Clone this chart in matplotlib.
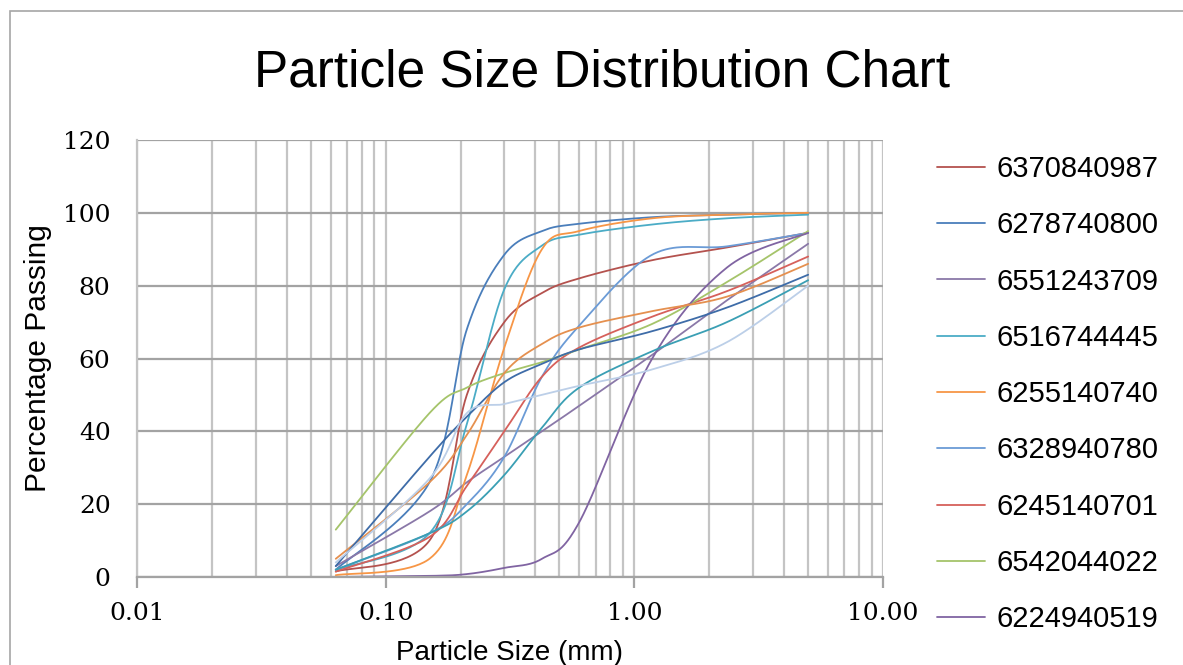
import numpy as np
import matplotlib
matplotlib.use('Agg')
import matplotlib.pyplot as plt
from matplotlib.patches import Rectangle
from matplotlib.ticker import FixedLocator, FuncFormatter, LogLocator, NullFormatter

# ---- data ----
sizes = [0.063, 0.15, 0.212, 0.3, 0.425, 0.6, 1.18, 2.36, 5.0]

series_names = ['6370840987', '6278740800', '6551243709', '6516744445', '6255140740',
                '6328940780', '6245140701', '6542044022', '6224940519']

s6370840987 = [1.5, 10, 50, 70, 78, 82, 87, 90.5, 94.5]
s6278740800 = [2, 26, 68, 88.5, 95, 97, 98.8, 99.5, 100]
s6551243709 = [3, 18, 26, 33, 40, 47, 61, 76, 91.5]
s6516744445 = [2, 12, 42, 79, 91, 94, 96.8, 98.5, 99.5]
s6255140740 = [0.5, 5, 28, 63, 90, 95, 98.5, 99.5, 100]
s6328940780 = [2, 12, 20, 33, 55, 69, 88.5, 90.8, 94.5]
s6245140701 = [1.5, 11, 25, 40, 55, 63, 71.5, 78.5, 88]
s6542044022 = [13, 45, 52, 56, 59, 62.5, 69.5, 81, 95]
s6224940519 = [0, 0.3, 0.8, 2.5, 5, 15, 60, 85, 94.5]
# further series (not shown in the visible part of the legend)
extra_a = [5, 26, 39, 56, 64, 68.5, 73, 77, 86]
extra_b = [3, 33, 44, 53.5, 58.5, 62.5, 67.5, 74, 83]
extra_c = [2, 12, 18, 28, 41, 52, 62, 70, 81.5]
extra_d = [4, 27, 45, 47.5, 50, 52.5, 57, 64.5, 80]

named_values = [s6370840987, s6278740800, s6551243709, s6516744445, s6255140740,
                s6328940780, s6245140701, s6542044022, s6224940519]
named_colors = ['#b4524e', '#4a7ebb', '#8a78a8', '#4bacc6', '#f79646',
                '#6b9bd6', '#d6605b', '#a5c46a', '#8064a2']
extra_values = [extra_a, extra_b, extra_c, extra_d]
extra_colors = ['#e5904f', '#3e6ca8', '#3a9fb4', '#bccfe8']


def smooth(xs, ys, n=40):
    """Excel-like smoothed line (Bezier through points) in log-x space."""
    P = np.column_stack([np.log10(xs), np.asarray(ys, float)])
    ext = np.vstack([P[0], P, P[-1]])
    t = np.linspace(0, 1, n)[:, None]
    out = []
    for i in range(len(P) - 1):
        p0, p3 = ext[i + 1], ext[i + 2]
        c1 = p0 + (ext[i + 2] - ext[i]) / 6
        c2 = p3 - (ext[i + 3] - ext[i + 1]) / 6
        seg = (1 - t) ** 3 * p0 + 3 * (1 - t) ** 2 * t * c1 + 3 * (1 - t) * t ** 2 * c2 + t ** 3 * p3
        out.append(seg if i == 0 else seg[1:])
    pts = np.vstack(out)
    return 10 ** pts[:, 0], pts[:, 1]


W, H = 1183, 665
fig = plt.figure(figsize=(W / 100, H / 100), dpi=100)
fig.patches.append(Rectangle((10 / W, -0.1), 2.0, (H - 11) / H + 0.1, transform=fig.transFigure,
                             fill=False, edgecolor='#a6a6a6', lw=1.2))

ax = fig.add_axes([137 / W, 88 / H, 746 / W, 437 / H])
ax.set_xscale('log')

handles = []
for vals, col, name in zip(named_values, named_colors, series_names):
    x, y = smooth(sizes, vals)
    h, = ax.plot(x, y, color=col, lw=1.3, label=name, solid_capstyle='round')
    handles.append(h)
for vals, col in zip(extra_values, extra_colors):
    x, y = smooth(sizes, vals)
    ax.plot(x, y, color=col, lw=1.3, solid_capstyle='round')

ax.set_xlim(0.01, 10)
ax.set_ylim(0, 120)
ax.set_yticks(range(0, 121, 20))
ax.xaxis.set_major_locator(FixedLocator([0.01, 0.1, 1, 10]))
ax.xaxis.set_major_formatter(FuncFormatter(lambda v, p: f'{v:.2f}'))
ax.xaxis.set_minor_locator(LogLocator(base=10, subs=range(2, 10)))
ax.xaxis.set_minor_formatter(NullFormatter())
ax.set_axisbelow(True)
ax.grid(which='both', axis='x', color='#c4c4c4', lw=1.6)
ax.grid(which='major', axis='y', color='#a3a3a3', lw=1.6)
for s in ['top', 'right']:
    ax.spines[s].set_visible(False)
ax.spines['left'].set_color('#c4c4c4')
ax.spines['left'].set_linewidth(1.6)
ax.spines['bottom'].set_color('#a3a3a3')
ax.spines['bottom'].set_linewidth(1.6)

ax.tick_params(axis='x', which='major', length=8, width=1.6, color='#a3a3a3', pad=10)
ax.tick_params(axis='x', which='minor', length=0)
ax.tick_params(axis='y', length=0, pad=19)
for lab in ax.get_xticklabels() + ax.get_yticklabels():
    lab.set_fontfamily('DejaVu Serif')
    lab.set_fontsize(18)

sans = ['Liberation Sans', 'DejaVu Sans']
fig.text(602 / W, 1 - 73 / H, 'Particle Size Distribution Chart', ha='center', va='center',
         fontsize=37, family=sans)
ax.set_ylabel('Percentage Passing', fontsize=21.5, family=sans)
ax.yaxis.set_label_coords((38 - 137) / 746, 0.5)
ax.yaxis.label.set_va('center')
ax.set_xlabel('Particle Size (mm)', fontsize=20, family=sans)
ax.xaxis.set_label_coords(0.5, (577 - 653) / 437)
ax.xaxis.label.set_va('center')

fig.legend(handles=handles, loc='upper left', bbox_to_anchor=(937 / W, 1 - 155 / H),
           frameon=False, prop=dict(family=sans, size=21), handlelength=1.64,
           handletextpad=0.41, labelspacing=0.97, borderaxespad=0, borderpad=0)

fig.savefig('out.png', dpi=100)
